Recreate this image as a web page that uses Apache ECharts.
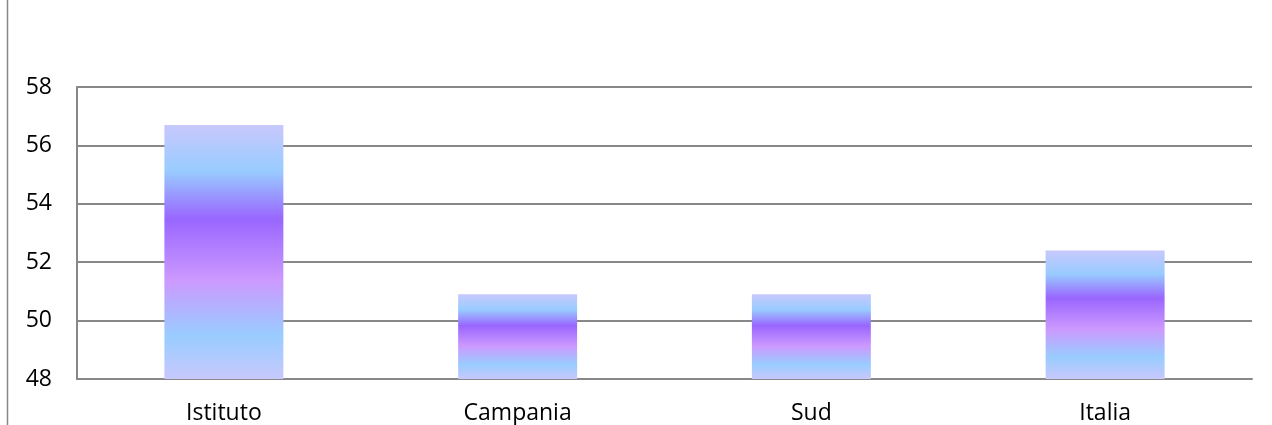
<!DOCTYPE html>
<html><head><meta charset="utf-8">
<script src="https://cdn.jsdelivr.net/npm/echarts@6/dist/echarts.min.js"></script>
<style>html,body{margin:0;padding:0;background:#fff}#c{width:1272px;height:425px}</style>
</head><body><div id="c"></div>
<script>
const categories = ['Istituto', 'Campania', 'Sud', 'Italia'];
const values = [56.7, 50.9, 50.9, 52.4];
const yTicks = [48, 50, 52, 54, 56, 58];

const chart = echarts.init(document.getElementById('c'), null, {renderer: 'canvas'});
const grad = new echarts.graphic.LinearGradient(0, 0, 0, 1, [
  {offset: 0, color: '#c8c8fc'},
  {offset: 0.18, color: '#99ccff'},
  {offset: 0.37, color: '#9966ff'},
  {offset: 0.61, color: '#cc99ff'},
  {offset: 0.83, color: '#99ccff'},
  {offset: 1, color: '#c8c8fc'}
]);
chart.setOption({
  animation: false,
  graphic: [{type: 'line', shape: {x1: 7.5, y1: 0, x2: 7.5, y2: 425}, style: {stroke: '#888', lineWidth: 1.5}}],
  grid: {left: 77, right: 20, top: 87, bottom: 45, containLabel: false},
  xAxis: {
    type: 'category', data: categories,
    axisLine: {lineStyle: {color: '#888', width: 2}},
    axisTick: {show: false},
    axisLabel: {color: '#000', fontSize: 23, fontFamily: 'Open Sans', margin: 23}
  },
  yAxis: {
    type: 'value', min: yTicks[0], max: yTicks[yTicks.length - 1], interval: 2,
    axisLine: {show: true, lineStyle: {color: '#888', width: 2}},
    axisTick: {show: false},
    splitLine: {lineStyle: {color: '#888', width: 2}},
    axisLabel: {color: '#000', fontSize: 23, fontFamily: 'Open Sans', margin: 25}
  },
  series: [{
    type: 'bar', data: values, barCategoryGap: '59.5%',
    itemStyle: {color: grad}
  }]
});
</script></body></html>
